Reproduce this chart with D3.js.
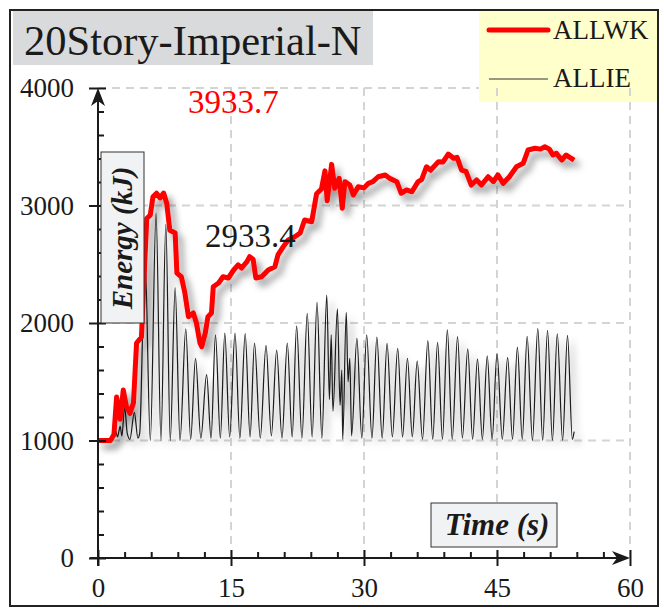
<!DOCTYPE html>
<html><head><meta charset="utf-8">
<script src="https://cdn.jsdelivr.net/npm/d3@7"></script>
<style>
html,body{margin:0;padding:0;background:#fff;}
svg{display:block;}
</style></head>
<body>
<svg id="chart" width="664" height="610"></svg>
<script>
// ---------- DATA ----------
const chartTitle = "20Story-Imperial-N";
const seriesNames = ["ALLWK", "ALLIE"];
const xTicks = [0, 15, 30, 45, 60];
const yTicks = [0, 1000, 2000, 3000, 4000];
const xLabel = "Time (s)";
const yLabel = "Energy (kJ)";
const noteRed = "3933.7";
const noteBlack = "2933.4";

// ALLWK (red) : time (s), energy (kJ)
const allwkTime = [0,1.4,1.8,2.1,2.5,2.85,3.2,3.6,4.0,4.35,4.9,5.3,5.5,5.9,6.2,6.6,7.0,7.4,7.75,8.1,8.7,8.9,9.4,9.8,10.2,10.75,11.1,11.5,11.7,12.1,12.4,12.8,13.0,13.6,14.1,14.7,15.3,15.8,16.2,16.8,17.1,17.5,17.8,18.45,19.2,19.95,20.3,20.9,21.45,22.2,22.8,23.3,24.1,24.65,25.2,25.6,25.85,26.35,26.7,27.2,27.55,27.85,28.4,28.8,29.35,30.0,30.5,31.0,31.6,32.4,32.9,33.7,34.2,34.8,35.4,36.1,36.5,37.05,37.5,38.4,38.9,39.5,40.1,40.5,41.0,41.5,42.1,42.7,43.25,44.0,44.6,45.1,45.7,46.4,47.2,47.95,48.5,49.3,49.9,50.4,50.9,51.3,51.7,52.3,52.8,53.2,53.7];
const allwkValue = [1000,1000,1050,1370,1180,1430,1290,1230,1320,1830,1880,2560,2890,2920,3075,3105,3064,3106,3020,2790,2766,2425,2394,2255,2054,2085,2000,1830,1798,1915,2054,2085,2309,2340,2394,2383,2451,2494,2468,2522,2565,2540,2383,2394,2451,2479,2579,2650,2706,2734,2766,2877,2862,3100,3140,3295,3040,3350,3146,3231,2976,3203,3174,3089,3160,3150,3189,3203,3245,3260,3231,3203,3104,3132,3117,3203,3220,3330,3300,3373,3370,3438,3402,3410,3302,3290,3174,3217,3174,3245,3203,3260,3189,3245,3330,3359,3472,3487,3480,3500,3480,3430,3444,3387,3430,3410,3387];

// ALLIE (black) : time (s), energy (kJ)
const allieTime = [0,1.6,2.0,2.2,2.5,2.7,3.0,3.3,3.6,4.1,4.5,4.7,5.3,5.9,6.55,7.1,7.65,8.15,8.7,9.25,9.9,10.45,11.0,11.6,12.25,12.75,13.25,13.8,14.3,14.85,15.45,16.0,16.6,17.15,17.65,18.3,18.95,19.55,20.15,20.75,21.35,21.9,22.4,23.0,23.6,24.15,24.7,25.25,25.8,26.1,26.3,26.5,27.0,27.3,27.5,27.6,28.0,28.2,28.4,28.6,29.2,29.75,30.3,30.9,31.45,32.05,32.6,33.2,33.8,34.35,34.9,35.45,36.0,36.6,37.2,37.75,38.3,38.85,39.4,39.95,40.55,41.1,41.7,42.25,42.8,43.35,43.9,44.45,45.0,45.6,46.2,46.75,47.3,47.85,48.4,49.0,49.6,50.15,50.7,51.25,51.8,52.4,52.95,53.5,53.7];
const allieValue = [1000,1000,1080,1030,1120,1040,1290,1060,1010,1240,1020,1060,2570,1000,2935,1000,2840,1000,2300,1000,1950,1010,1700,1020,1560,1020,1900,1020,1915,1030,1915,1020,1910,1030,1830,1020,1810,1040,1770,1020,1830,1030,1975,1020,2082,1030,2175,1020,2235,1350,1900,1250,2120,1300,1600,1010,2090,1500,1700,1040,1870,1020,1900,1020,1880,1020,1827,1030,1785,1030,1700,1030,1675,1010,1850,1010,1835,1010,1942,1010,1884,1020,1780,1010,1695,1010,1720,1010,1742,1010,1708,1010,1795,1010,1887,1000,1955,1000,1937,1000,1908,1000,1894,1010,1075];

// ---------- DRAW ----------
const svg = d3.select("#chart");
const FONT = "'Liberation Serif','Times New Roman',serif";

const x = d3.scaleLinear().domain([0, 60]).range([98, 630]);
const y = d3.scaleLinear().domain([0, 4000]).range([558, 88]);

const defs = svg.append("defs");
const f = defs.append("filter").attr("id","shadow").attr("x","-10%").attr("y","-10%").attr("width","130%").attr("height","130%");
f.append("feDropShadow").attr("dx",5).attr("dy",6).attr("stdDeviation",3.5)
  .attr("flood-color","#000").attr("flood-opacity",0.4);

// outer frame
svg.append("rect").attr("x",10).attr("y",10).attr("width",648).attr("height",596)
  .attr("fill","#fff").attr("stroke","#222").attr("stroke-width",2);

// title box
svg.append("rect").attr("x",13).attr("y",11).attr("width",360).attr("height",54).attr("fill","#d9dadb");
svg.append("text").attr("x",24).attr("y",55).attr("font-family",FONT).attr("font-size",42.5)
  .attr("fill","#1a1a1a").text(chartTitle);

// horizontal grid (under legend)
const grid = svg.append("g").attr("stroke","#d4d4d4").attr("stroke-width",2).attr("stroke-dasharray","8,6");
yTicks.filter(d=>d>0).forEach(d=>{
  grid.append("line").attr("x1",x(0)).attr("x2",x(60)).attr("y1",y(d)).attr("y2",y(d));
});

// legend box
const lg = svg.append("g");
lg.append("rect").attr("x",479).attr("y",11).attr("width",178).attr("height",91).attr("fill","#ffffcc");
lg.append("line").attr("x1",489).attr("x2",548).attr("y1",30).attr("y2",30)
  .attr("stroke","#ff0000").attr("stroke-width",5).attr("stroke-linecap","round");
lg.append("text").attr("x",553).attr("y",39).attr("font-family",FONT).attr("font-size",27).attr("fill","#1a1a1a").text(seriesNames[0]);
lg.append("line").attr("x1",489).attr("x2",548).attr("y1",79).attr("y2",79)
  .attr("stroke","#333").attr("stroke-width",1);
lg.append("text").attr("x",553).attr("y",87).attr("font-family",FONT).attr("font-size",27).attr("fill","#1a1a1a").text(seriesNames[1]);

// vertical grid
const vgrid = svg.append("g").attr("stroke","#d4d4d4").attr("stroke-width",2).attr("stroke-dasharray","8,6");
xTicks.filter(d=>d>0).forEach(d=>{
  vgrid.append("line").attr("x1",x(d)).attr("x2",x(d)).attr("y1",y(4000)).attr("y2",y(0));
});

// lines
const black = allieTime.map((t,i)=>[t, allieValue[i]]);
const red = allwkTime.map((t,i)=>[t, allwkValue[i]]);
const lineGen = d3.line().x(d=>x(d[0])).y(d=>y(d[1])).curve(d3.curveMonotoneX);
svg.append("path").datum(black).attr("d",lineGen).attr("fill","none")
  .attr("stroke","#1a1a1a").attr("stroke-width",1.2).attr("filter","url(#shadow)");
const lineR = d3.line().x(d=>x(d[0])).y(d=>y(d[1])).curve(d3.curveLinear);
svg.append("path").datum(red).attr("d",lineR).attr("fill","none")
  .attr("stroke","#ff0000").attr("stroke-width",5).attr("stroke-linejoin","round")
  .attr("filter","url(#shadow)");

// axes
const axG = svg.append("g");
const xMinor = d3.range(3, 60, 3).filter(d=>d%15!==0);
const yMinor = d3.range(200, 4000, 200).filter(d=>d%1000!==0);

const xAx = axG.append("g").attr("transform",`translate(0,${y(0)})`)
  .call(d3.axisBottom(x).tickValues(xTicks).tickSize(8).tickFormat(d3.format("d")));
xAx.select(".domain").remove();
xAx.selectAll(".tick line").attr("y1",-8).attr("y2",8).attr("stroke","#1a1a1a").attr("stroke-width",2);
xAx.selectAll(".tick text").attr("y",39).attr("dy",0).attr("font-family",FONT).attr("font-size",27).attr("fill","#1a1a1a");

const xAxMin = axG.append("g").attr("transform",`translate(0,${y(0)})`)
  .call(d3.axisBottom(x).tickValues(xMinor).tickSize(-6).tickFormat(""));
xAxMin.select(".domain").remove();
xAxMin.selectAll(".tick line").attr("stroke","#1a1a1a").attr("stroke-width",2);

const yAx = axG.append("g").attr("transform",`translate(${x(0)},0)`)
  .call(d3.axisLeft(y).tickValues(yTicks).tickSize(9).tickFormat(d3.format("d")));
yAx.select(".domain").remove();
yAx.selectAll(".tick line").attr("x1",8).attr("x2",-9).attr("stroke","#1a1a1a").attr("stroke-width",2);
yAx.selectAll(".tick text").attr("x",-24).attr("dy","0.33em").attr("font-family",FONT).attr("font-size",27).attr("fill","#1a1a1a");

const yAxMin = axG.append("g").attr("transform",`translate(${x(0)},0)`)
  .call(d3.axisLeft(y).tickValues(yMinor).tickSize(-6).tickFormat(""));
yAxMin.select(".domain").remove();
yAxMin.selectAll(".tick line").attr("stroke","#1a1a1a").attr("stroke-width",2);

// axis lines with arrows
axG.append("line").attr("x1",x(0)).attr("x2",x(0)).attr("y1",y(0)+8).attr("y2",y(4000)+8)
  .attr("stroke","#1a1a1a").attr("stroke-width",2);
axG.append("path").attr("d",`M${x(0)},${y(4000)} L${x(0)+7},${y(4000)+18} L${x(0)},${y(4000)+13} L${x(0)-7},${y(4000)+18} Z`).attr("fill","#1a1a1a");
axG.append("line").attr("x1",x(0)-8).attr("x2",x(60)-8).attr("y1",y(0)).attr("y2",y(0))
  .attr("stroke","#1a1a1a").attr("stroke-width",2);
axG.append("path").attr("d",`M${x(60)},${y(0)} L${x(60)-18},${y(0)-7} L${x(60)-13},${y(0)} L${x(60)-18},${y(0)+7} Z`).attr("fill","#1a1a1a");

// axis title boxes
svg.append("rect").attr("x",101).attr("y",152).attr("width",43).attr("height",171)
  .attr("fill","#f1f2f3").attr("stroke","#333").attr("stroke-width",1);
svg.append("text").attr("transform","translate(132,238) rotate(-90)").attr("text-anchor","middle")
  .attr("font-family",FONT).attr("font-size",29).attr("font-weight","bold").attr("font-style","italic")
  .attr("fill","#1a1a1a").text(yLabel);

svg.append("rect").attr("x",431).attr("y",503).attr("width",126).attr("height",44)
  .attr("fill","#f1f2f3").attr("stroke","#333").attr("stroke-width",1);
svg.append("text").attr("x",497).attr("y",535).attr("text-anchor","middle")
  .attr("font-family",FONT).attr("font-size",31).attr("font-weight","bold").attr("font-style","italic")
  .attr("fill","#1a1a1a").text(xLabel);

// notes
svg.append("text").attr("x",188).attr("y",113).attr("font-family",FONT).attr("font-size",33)
  .attr("fill","#ff0000").text(noteRed);
svg.append("text").attr("x",205).attr("y",247).attr("font-family",FONT).attr("font-size",33)
  .attr("fill","#1a1a1a").text(noteBlack);
</script>
</body></html>
